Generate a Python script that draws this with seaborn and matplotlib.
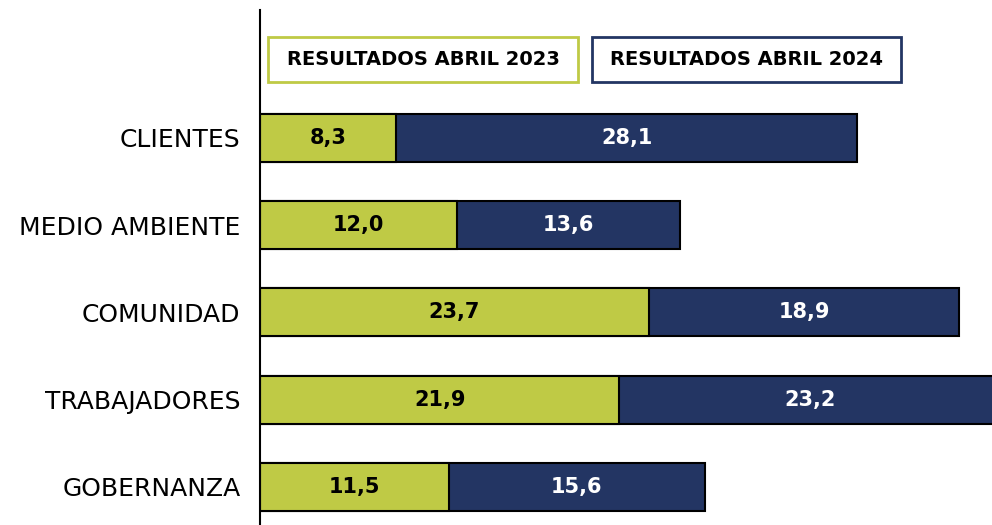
import matplotlib
matplotlib.use("Agg")
import matplotlib.pyplot as plt
from matplotlib.patches import Rectangle
import pandas as pd
import seaborn as sns

# Data
categories = ["CLIENTES", "MEDIO AMBIENTE", "COMUNIDAD", "TRABAJADORES", "GOBERNANZA"]
res_2023 = [8.3, 12.0, 23.7, 21.9, 11.5]
res_2024 = [28.1, 13.6, 18.9, 23.2, 15.6]
series_labels = ["RESULTADOS ABRIL 2023", "RESULTADOS ABRIL 2024"]

GREEN = "#BFCA45"
NAVY = "#233563"

df = pd.DataFrame({"categoria": categories, "r2023": res_2023, "r2024": res_2024})
df["total"] = df["r2023"] + df["r2024"]

sns.set_theme(style="white")
plt.rcParams["font.family"] = ["DejaVu Sans"]

W, H = 992, 525
fig = plt.figure(figsize=(W / 100, H / 100), dpi=100)
ax = fig.add_axes([260 / W, 0, 1 - 260 / W, 1 - 10 / H])

# stacked bars: total (navy) first, 2023 (green) drawn on top
sns.barplot(data=df, y="categoria", x="total", color=NAVY, width=0.55,
            edgecolor="black", linewidth=1.5, saturation=1, ax=ax)
sns.barplot(data=df, y="categoria", x="r2023", color=GREEN, width=0.55,
            edgecolor="black", linewidth=1.5, saturation=1, ax=ax)

ax.set_xlim(0, 44.6)
ax.set_ylim(4.436, -1.467)

for i, row in df.iterrows():
    ax.text(row["r2023"] / 2, i, f"{row['r2023']:.1f}".replace(".", ","),
            ha="center", va="center", fontsize=15, fontweight="bold", color="black")
    ax.text(row["r2023"] + row["r2024"] / 2, i, f"{row['r2024']:.1f}".replace(".", ","),
            ha="center", va="center", fontsize=15, fontweight="bold", color="white")

ax.set_xlabel("")
ax.set_ylabel("")
ax.set_xticks([])
ax.tick_params(axis="y", length=0, pad=14, labelsize=18)
for lab in ax.get_yticklabels():
    lab.set_color("black")
for s in ["top", "right", "bottom"]:
    ax.spines[s].set_visible(False)
ax.spines["left"].set_color("black")
ax.spines["left"].set_linewidth(1.5)

# legend boxes at the top
boxes = [(268, 578, GREEN), (592, 901, NAVY)]
for (x0, x1, col), label in zip(boxes, series_labels):
    fig.add_artist(Rectangle((x0 / W, 1 - 82 / H), (x1 - x0) / W, 45 / H,
                             transform=fig.transFigure, fill=False,
                             edgecolor=col, linewidth=2))
    fig.text((x0 + x1) / 2 / W, 1 - 59.5 / H, label, ha="center", va="center",
             fontsize=14, fontweight="bold", color="black")

fig.savefig("out.png", dpi=100)
